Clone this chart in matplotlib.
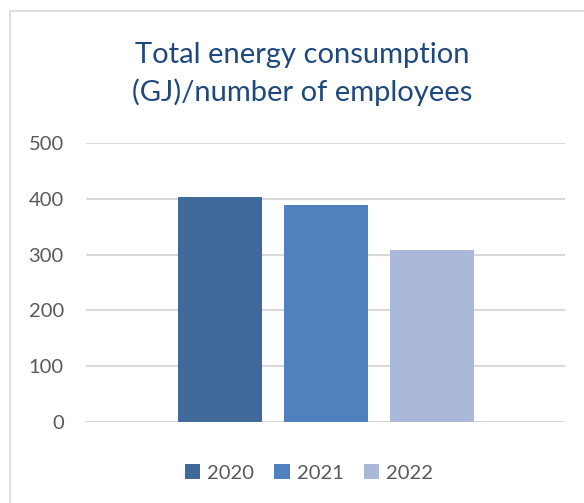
import matplotlib

matplotlib.use("Agg")
import matplotlib.pyplot as plt
from matplotlib.patches import Rectangle

years = ["2020", "2021", "2022"]
values = [403, 389, 308]
colors = ["#3F6A9A", "#4E81BD", "#A9B9D7"]
yticks = [0, 100, 200, 300, 400, 500]

plt.rcParams["font.family"] = ["Lato", "DejaVu Sans"]

W, H = 584, 503
fig = plt.figure(figsize=(W / 100, H / 100), dpi=100)

# chart area border (runs off the right and bottom edges)
fig.patches.append(Rectangle((10 / W, -0.1), 1.2, (H - 11) / H + 0.1,
                             transform=fig.transFigure, fill=False,
                             edgecolor="#D9D9D9", linewidth=1.2))

ax = fig.add_axes([86 / W, (H - 422) / H, (565 - 86) / W, (422 - 143) / H])
xs = [i - 1 for i in range(len(years))]
bars = ax.bar(xs, values, width=84 / 106, color=colors, zorder=3)

ax.set_xlim(-479 / 106 / 2, 479 / 106 / 2)
ax.set_ylim(0, 500)
ax.set_yticks(yticks)
ax.set_xticks([])
ax.tick_params(axis="y", length=0, pad=16, labelsize=14.5, labelcolor="#595959")
ax.grid(axis="y", color="#D9D9D9", linewidth=1.5, zorder=0)
for s in ax.spines.values():
    s.set_visible(False)

title_x = 302.5 / W
fig.text(title_x, (H - 63) / H, "Total energy consumption", ha="center",
         va="baseline", fontsize=21, color="#1F497D")
fig.text(title_x, (H - 101) / H, "(GJ)/number of employees", ha="center",
         va="baseline", fontsize=21, color="#1F497D")

leg = fig.legend(bars, years, loc="center", bbox_to_anchor=(309 / W, (H - 473) / H),
                 ncol=3, frameon=False, fontsize=14.5, handlelength=0.75,
                 handleheight=0.75, handletextpad=0.35, columnspacing=1.0)
for t in leg.get_texts():
    t.set_color("#595959")

fig.savefig("out.png", dpi=100)
